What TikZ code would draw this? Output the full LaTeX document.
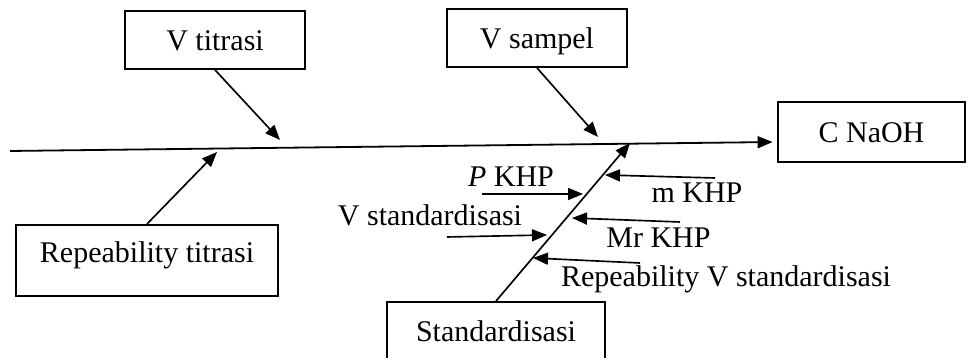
\documentclass[tikz,border=0pt]{standalone}
\usepackage{fontspec}
\setmainfont{Liberation Serif}
\usetikzlibrary{arrows.meta}
\begin{document}
\begin{tikzpicture}[x=0.3333pt,y=0.3333pt,line width=0.55pt,
        >={Triangle[length=5pt,width=4pt]},
        box/.style={draw,line width=0.65pt,inner sep=0pt,text height=6.7pt,text depth=0pt}]
        \useasboundingbox (0,0) rectangle (969,358);
        % causes above the spine
        \node[box,minimum width=60pt,minimum height=19.3pt] (vtit) at (215,318) {V titrasi};
        \node[box,minimum width=60pt,minimum height=19.3pt] (vsamp) at (537,320) {V sampel};
        \node[box,minimum width=62.3pt,minimum height=20pt] (naoh) at (871.5,226) {C NaOH};   % effect
        % causes below the spine
        \node[box,text depth=5.3pt,minimum width=87.3pt,minimum height=23.7pt] (reptit) at (147,97.5) {Repeability titrasi};
        \node[box,minimum width=72.7pt,minimum height=19.3pt] (std) at (496,27) {Standardisasi};

        \coordinate (tail) at (10,207);
        \draw[->,line width=0.6pt,shorten >=1.5pt] (tail) -- ([yshift=-3.33pt]naoh.west);   % spine

        \coordinate (vtitend) at (280,218);
        \coordinate (vsampend) at (598,221);
        \coordinate (reptitend) at (217,206);
        \coordinate (stdend) at (630,215);
        \draw[->] (vtit.south) -- (vtitend);
        \draw[->] (vsamp.south) -- (vsampend);
        \draw[->] (reptit.north) -- (reptitend);
        \draw[->] (std.north) -- (stdend);

        % branches on Standardisasi
        \coordinate (pk0) at (482,164);   \coordinate (pk1) at (583,164);
        \coordinate (mk0) at (715,180);   \coordinate (mk1) at (605,183);
        \coordinate (vs0) at (447,121);   \coordinate (vs1) at (547,123);
        \coordinate (mr0) at (680,136);   \coordinate (mr1) at (572,140);
        \coordinate (rv0) at (640,95);    \coordinate (rv1) at (533,100);
        \draw[->] (pk0) -- (pk1);
        \draw[->] (mk0) -- (mk1);
        \draw[->] (vs0) -- (vs1);
        \draw[->] (mr0) -- (mr1);
        \draw[->] (rv0) -- (rv1);
        \node[anchor=base,inner sep=0pt] (pkl) at (511,171) {\textit{P} KHP};
        \node[anchor=base,inner sep=0pt] (mkl) at (697,155) {m KHP};
        \node[anchor=base,inner sep=0pt] (vsl) at (430,132) {V standardisasi};
        \node[anchor=base,inner sep=0pt] (mrl) at (658.5,110) {Mr KHP};
        \node[anchor=base,inner sep=0pt] (rvl) at (726,71) {Repeability V standardisasi};
    \end{tikzpicture}
\end{document}
